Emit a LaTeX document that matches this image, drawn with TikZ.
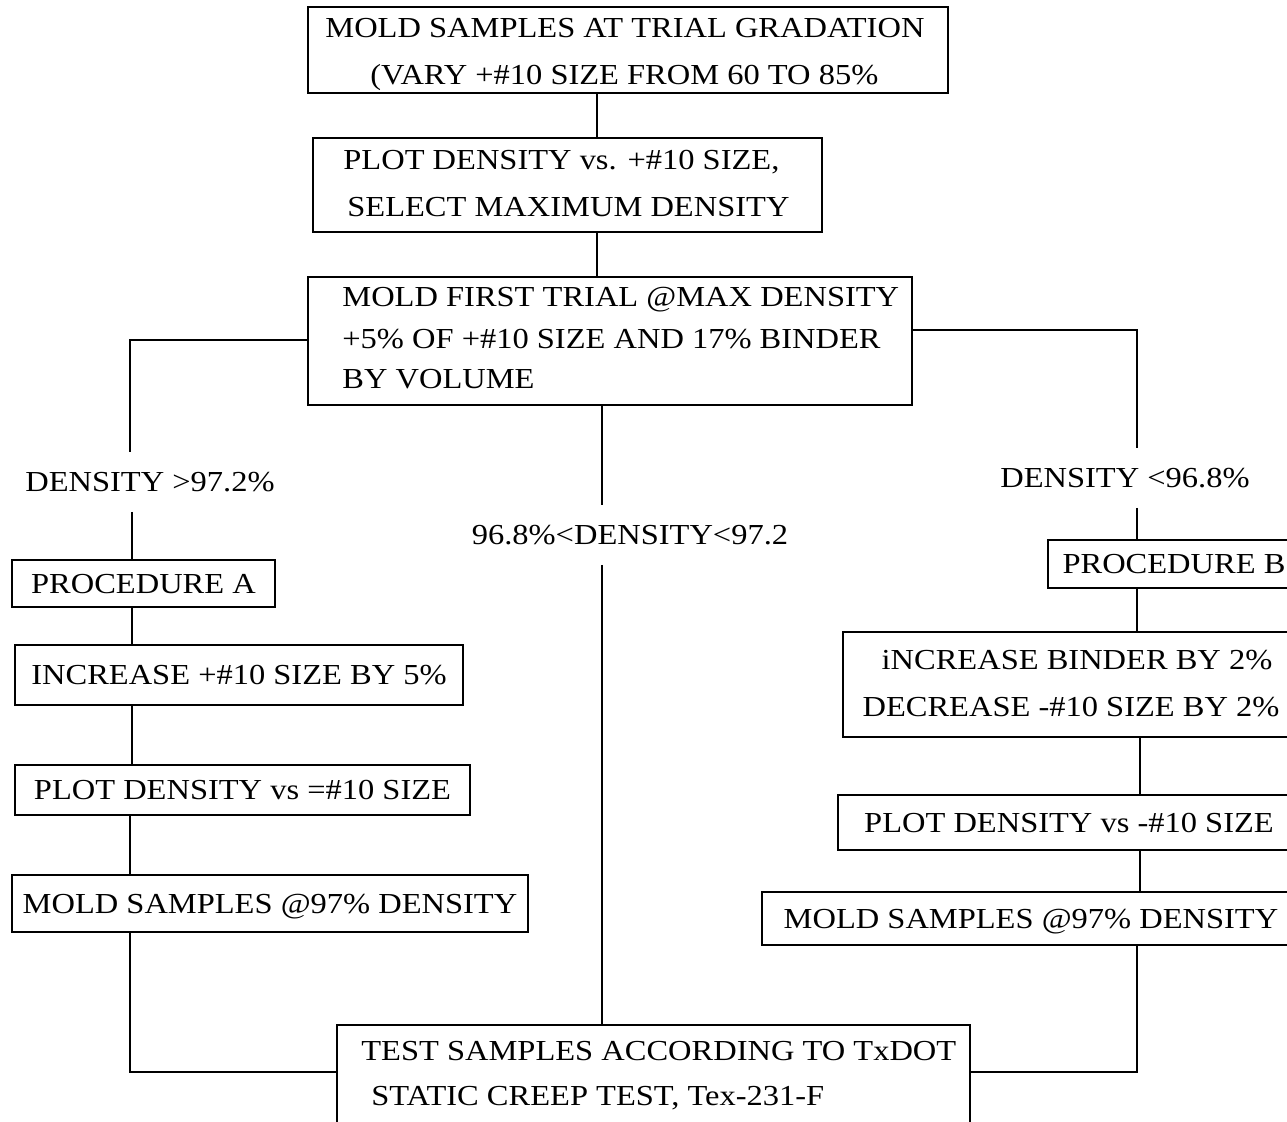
\documentclass[tikz,border=0pt]{standalone}
\usepackage{fontspec}
\setmainfont[FakeStretch=1.12]{Liberation Serif}
\begin{document}
\begin{tikzpicture}[x=0.5pt,y=-0.5pt,
  box/.style={draw, line width=0.8pt, inner sep=0pt, text height=9.6pt, text depth=0pt,
    font=\fontsize{14.5}{20}\selectfont},
  ln/.style={inner sep=0pt, text height=9.6pt, text depth=0pt, font=\fontsize{14.5}{20}\selectfont},
  lbl/.style={inner xsep=2pt, inner ysep=10pt, text height=9.6pt, text depth=0pt,
    font=\fontsize{14.5}{20}\selectfont},
  conn/.style={line width=0.6pt}]
\clip (0,0) rectangle (1287,1122);
\fill[white] (0,0) rectangle (1287,1122);
% main column
\node[box, minimum width=320pt, minimum height=43pt] (top) at (628,50) {};
\node[ln, anchor=west] (top1) at (325,28) {MOLD SAMPLES AT TRIAL GRADATION};
\node[ln, anchor=west] (top2) at (370,75) {(VARY +\#10 SIZE FROM 60 TO 85\%};
\node[box, minimum width=254.5pt, minimum height=47pt] (b2) at (567.5,185) {};
\node[ln, anchor=west] (b2a) at (343,160) {PLOT DENSITY vs. +\#10 SIZE,};
\node[ln, anchor=west] (b2b) at (347,207) {SELECT MAXIMUM DENSITY};
\node[box, minimum width=302pt, minimum height=64pt] (b3) at (610,341) {};
\node[ln, anchor=west] (b3a) at (342,297) {MOLD FIRST TRIAL @MAX DENSITY};
\node[ln, anchor=west] (b3b) at (342,339) {+5\% OF +\#10 SIZE AND 17\% BINDER};
\node[ln, anchor=west] (b3c) at (342,379) {BY VOLUME};
\node[lbl] (lA) at (150,482) {DENSITY >97.2\%};
\node[lbl] (lB) at (1125,478) {DENSITY <96.8\%};
\node[lbl] (lM) at (630,535) {96.8\%<DENSITY<97.2};
% left column
\node[box, minimum width=131.5pt, minimum height=23.5pt] (pA) at (143.5,583.5) {PROCEDURE A};
\node[box, minimum width=224pt, minimum height=30pt] (a2) at (239,675) {INCREASE +\#10 SIZE BY 5\%};
\node[box, minimum width=227.5pt, minimum height=25pt] (a3) at (242.5,790) {PLOT DENSITY vs =\#10 SIZE};
\node[box, minimum width=258pt, minimum height=28.5pt] (a4) at (270,903.5) {MOLD SAMPLES @97\% DENSITY};
% right column
\node[box, minimum width=126pt, minimum height=24pt] (pB) at (1174,564) {PROCEDURE B};
\node[box, minimum width=228.5pt, minimum height=52.5pt] (r2) at (1071.5,684.5) {};
\node[ln] (r2a) at (1077,660) {iNCREASE BINDER BY 2\%};
\node[ln] (r2b) at (1071,707) {DECREASE -\#10 SIZE BY 2\%};
\node[box, minimum width=231pt, minimum height=27.5pt] (r3) at (1069,822.5) {PLOT DENSITY vs -\#10 SIZE};
\node[box, minimum width=269pt, minimum height=26.5pt] (r4) at (1031,918.5) {MOLD SAMPLES @97\% DENSITY};
% bottom
\node[box, minimum width=316.5pt, minimum height=60pt] (bot) at (653.5,1085) {};
\node[ln, anchor=west] (bota) at (361,1051) {TEST SAMPLES ACCORDING TO TxDOT};
\node[ln, anchor=west] (botb) at (371,1096) {STATIC CREEP TEST, Tex-231-F};
% connectors
\draw[conn] (597,0 |- top.south) -- (597,0 |- b2.north);
\draw[conn] (597,0 |- b2.south) -- (597,0 |- b3.north);
\draw[conn] (b3.west |- 0,340) -| (lA.north -| 130,0);
\draw[conn] (lA.south -| 132,0) -- (pA.north -| 132,0);
\draw[conn] (pA.south -| 132,0) -- (a2.north -| 132,0);
\draw[conn] (a2.south -| 132,0) -- (a3.north -| 132,0);
\draw[conn] (a3.south -| 130,0) -- (a4.north -| 130,0);
\draw[conn] (a4.south -| 130,0) |- (bot.west |- 0,1072);
\draw[conn] (b3.east |- 0,330) -| (lB.north -| 1137,0);
\draw[conn] (lB.south -| 1137,0) -- (pB.north -| 1137,0);
\draw[conn] (pB.south -| 1137,0) -- (r2.north -| 1137,0);
\draw[conn] (r2.south -| 1140,0) -- (r3.north -| 1140,0);
\draw[conn] (r3.south -| 1140,0) -- (r4.north -| 1140,0);
\draw[conn] (r4.south -| 1137,0) |- (bot.east |- 0,1072);
\draw[conn] (602,0 |- b3.south) -- (602,0 |- lM.north);
\draw[conn] (602,0 |- lM.south) -- (602,0 |- bot.north);
\end{tikzpicture}
\end{document}
